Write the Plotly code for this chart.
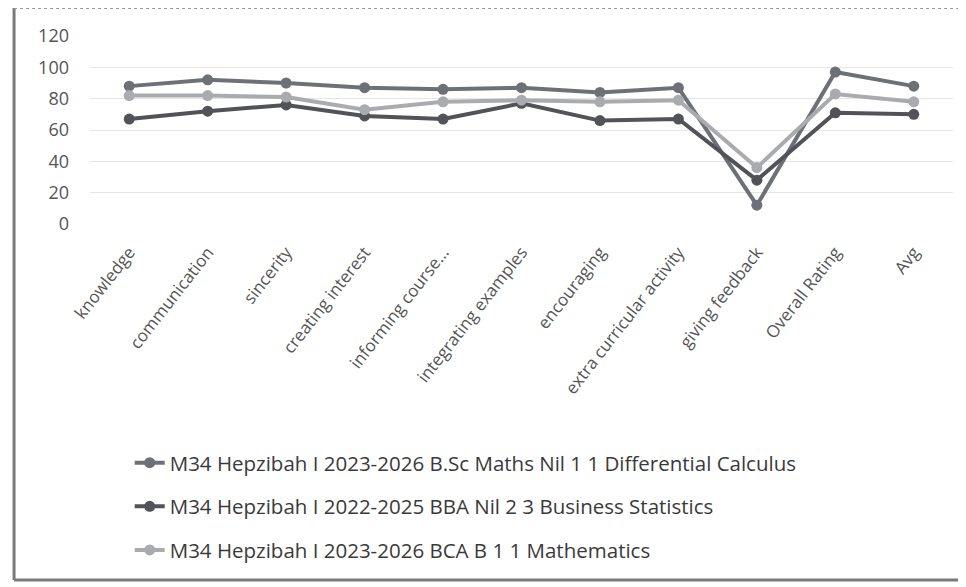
import plotly.graph_objects as go

categories = ["knowledge", "communication", "sincerity", "creating interest",
              "informing course...", "integrating examples", "encouraging",
              "extra curricular activity", "giving feedback", "Overall Rating", "Avg"]

series_names = [
    "M34 Hepzibah I 2023-2026 B.Sc Maths Nil 1 1 Differential Calculus",
    "M34 Hepzibah I 2022-2025 BBA Nil 2 3 Business Statistics",
    "M34 Hepzibah I 2023-2026 BCA B 1 1 Mathematics",
]
calculus = [88, 92, 90, 87, 86, 87, 84, 87, 12, 97, 88]
statistics = [67, 72, 76, 69, 67, 77, 66, 67, 28, 71, 70]
mathematics = [82, 82, 81, 73, 78, 79, 78, 79, 36, 83, 78]
y_ticks = [0, 20, 40, 60, 80, 100, 120]

colors = ["#6d7076", "#515358", "#a9abaf"]
data = [calculus, statistics, mathematics]

fig = go.Figure()
for i, (name, vals) in enumerate(zip(series_names, data)):
    fig.add_trace(go.Scatter(
        x=categories, y=vals, name=name, mode="lines+markers",
        legendgroup=f"g{i}",
        line=dict(color=colors[i], width=4),
        marker=dict(color=colors[i], size=11),
    ))

fig.update_layout(
    width=958, height=579,
    margin=dict(l=82, r=13, t=28, b=363),
    paper_bgcolor="white", plot_bgcolor="white",
    font=dict(family="Open Sans, Lato, sans-serif", color="#404040"),
    showlegend=True,
    legend=dict(x=0.046, xanchor="left", y=-1.164, yanchor="top",
                font=dict(size=20.5, color="#3a3a3a"), tracegroupgap=14,
                itemwidth=30, bgcolor="rgba(0,0,0,0)"),
    xaxis=dict(type="category", range=[-0.5, 10.5], tickangle=-52,
               tickfont=dict(size=17, color="#555555"), showgrid=False,
               showline=False, zeroline=False, ticks="", ticklabelstandoff=14),
    yaxis=dict(range=[0, 120], tickvals=y_ticks, tickfont=dict(size=18, color="#555555"),
               gridcolor="#e6e6e6", gridwidth=1, zeroline=False, showline=False,
               ticks="", ticklabelstandoff=20),
)

line_style = dict(color="#7a7a7a", width=3)
fig.add_shape(type="line", xref="paper", yref="paper", x0=-0.088, x1=-0.088, y0=1.149, y1=-1.894, line=line_style)
fig.add_shape(type="line", xref="paper", yref="paper", x0=-0.088, x1=1.02, y0=1.149, y1=1.149, line=dict(color="#9a9a9a", width=2, dash="dot"))
fig.add_shape(type="line", xref="paper", yref="paper", x0=-0.088, x1=1.02, y0=-1.894, y1=-1.894, line=line_style)

fig.write_html("out.html")
